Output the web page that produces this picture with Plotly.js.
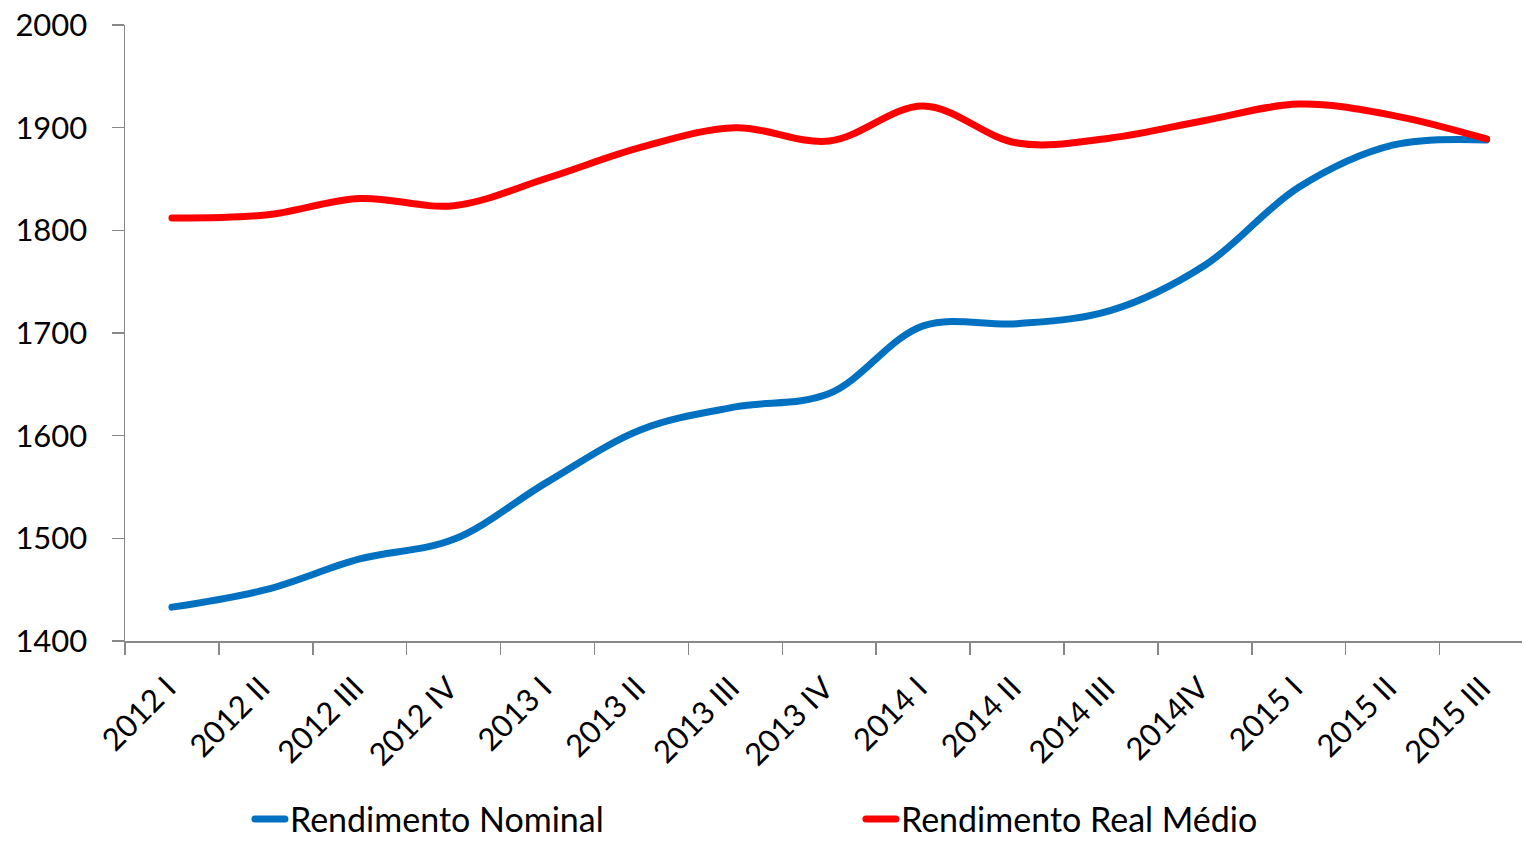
<!DOCTYPE html>
<html>
<head>
<meta charset="utf-8">
<script src="https://cdn.plot.ly/plotly-3.0.1.min.js"></script>
<style>
html,body{margin:0;padding:0;background:#fff;}
#chart{width:1524px;height:843px;}
.js-line{stroke-linecap:round;stroke-linejoin:round;}
</style>
</head>
<body>
<div id="chart"></div>
<script>
const categories = ["2012 I","2012 II","2012 III","2012 IV","2013 I","2013 II","2013 III","2013 IV","2014 I","2014 II","2014 III","2014IV","2015 I","2015 II","2015 III"];
const rendimentoNominal = [1433,1450,1480,1499,1555,1606,1628,1641,1707,1709,1722,1766,1842,1883,1888];
const rendimentoReal = [1812,1815,1831,1824,1851,1881,1900,1887,1921,1885,1890,1907,1923,1912,1889];
const seriesNames = ["Rendimento Nominal","Rendimento Real Médio"];
const yTicks = [1400,1500,1600,1700,1800,1900,2000];

const font = "Lato, 'Open Sans', sans-serif";

const traces = [
  {x: categories, y: rendimentoNominal, name: seriesNames[0], type: "scatter", mode: "lines",
   legendwidth: 566,
   line: {color: "#0070C0", width: 7, shape: "spline", smoothing: 1}},
  {x: categories, y: rendimentoReal, name: seriesNames[1], type: "scatter", mode: "lines",
   line: {color: "#FF0000", width: 7, shape: "spline", smoothing: 1}}
];

const layout = {
  width: 1524, height: 843,
  margin: {l: 125, r: 2, t: 25, b: 202, autoexpand: false},
  paper_bgcolor: "#fff", plot_bgcolor: "#fff",
  showlegend: true,
  legend: {orientation: "h", xref: "container", yref: "container", x: 0.164, xanchor: "left", y: 0.028, yanchor: "middle",
           font: {family: font, size: 34, color: "#000"},
           itemwidth: 30, bgcolor: "rgba(0,0,0,0)"},
  xaxis: {type: "category", range: [-0.5, 14.377], tickson: "boundaries", ticks: "outside", ticklen: 12,
          tickcolor: "#888", tickwidth: 1.5, showline: true, linecolor: "#888", linewidth: 1.5,
          showgrid: false, zeroline: false, tickangle: -45, automargin: false,
          ticklabelstandoff: 15, ticklabelshift: -5,
          tickfont: {family: font, size: 31, color: "#000"}, fixedrange: true},
  yaxis: {range: [1400, 2000], tickvals: yTicks, ticktext: yTicks.map(String), ticks: "outside", ticklen: 12,
          tickcolor: "#888", tickwidth: 1.5, showline: true, linecolor: "#888", linewidth: 1.5,
          showgrid: false, zeroline: false, ticklabelstandoff: 18, automargin: false,
          tickfont: {family: font, size: 31, color: "#000"}, fixedrange: true}
};

Plotly.newPlot("chart", traces, layout, {displayModeBar: false, staticPlot: true});
</script>
</body>
</html>
